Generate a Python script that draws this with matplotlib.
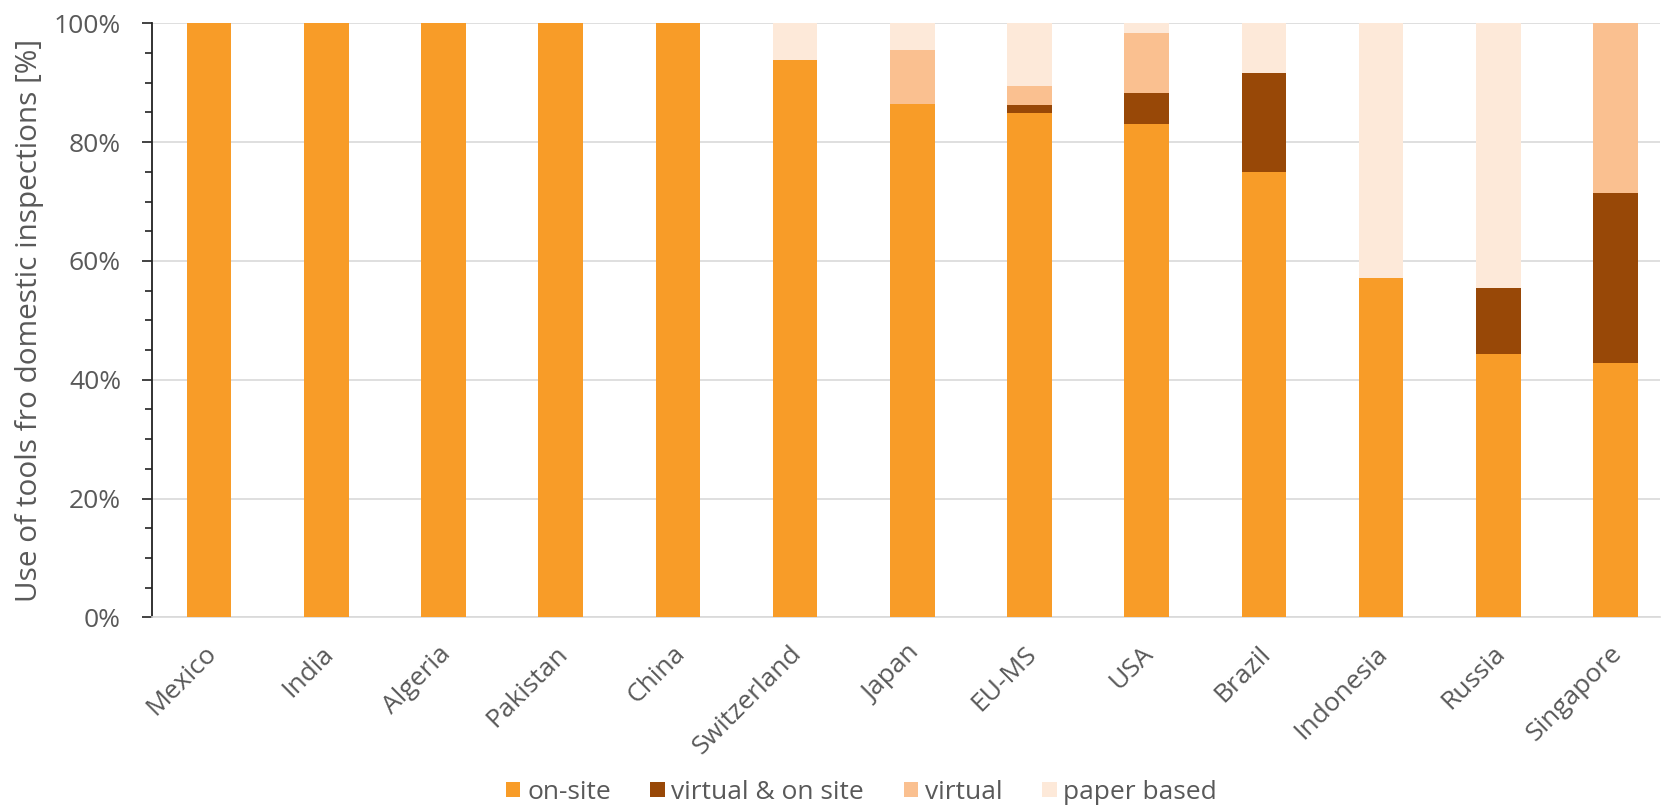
import matplotlib

matplotlib.use("Agg")

import matplotlib.pyplot as plt
import matplotlib.transforms as mtransforms
import numpy as np
from matplotlib.ticker import MultipleLocator, PercentFormatter

plt.rcParams["font.family"] = ["Open Sans", "DejaVu Sans"]

countries = [
    "Mexico", "India", "Algeria", "Pakistan", "China", "Switzerland", "Japan",
    "EU-MS", "USA", "Brazil", "Indonesia", "Russia", "Singapore",
]
on_site = [100, 100, 100, 100, 100, 93.8, 86.4, 84.9, 83.0, 75.0, 57.1, 44.4, 42.9]
virtual_on_site = [0, 0, 0, 0, 0, 0, 0, 1.4, 5.3, 16.7, 0, 11.1, 28.6]
virtual = [0, 0, 0, 0, 0, 0, 9.1, 3.1, 10.0, 0, 0, 0, 28.5]
paper_based = [0, 0, 0, 0, 0, 6.2, 4.5, 10.6, 1.7, 8.3, 42.9, 44.5, 0]

series = [
    ("on-site", on_site, "#F89C28"),
    ("virtual & on site", virtual_on_site, "#984807"),
    ("virtual", virtual, "#FAC090"),
    ("paper based", paper_based, "#FDE9D9"),
]

GREY = "#595959"

fig = plt.figure(figsize=(16.63, 8.06), dpi=100)
ax = fig.add_axes([0.0912, 0.234, 0.907, 0.737])

x = np.arange(len(countries))
bottom = np.zeros(len(countries))
for label, values, color in series:
    values = np.asarray(values, dtype=float)
    ax.bar(x, values, width=0.38, bottom=bottom, color=color, label=label,
           zorder=3)
    bottom += values

ax.set_xlim(-0.49, 12.38)
ax.set_ylim(0, 100)
ax.yaxis.set_major_locator(MultipleLocator(20))
ax.yaxis.set_minor_locator(MultipleLocator(5))
ax.yaxis.set_major_formatter(PercentFormatter(decimals=0))
ax.grid(axis="y", color="#D9D9D9", linewidth=1.2, zorder=0)

ax.set_xticks(x)
ax.set_xticklabels(countries, rotation=45, ha="right", rotation_mode="anchor")
ax.tick_params(axis="x", length=0, pad=17, labelsize=19, colors=GREY)
# nudge the slanted country names a little to the left
shift = mtransforms.ScaledTranslation(-4 / 72, 0, fig.dpi_scale_trans)
for lbl in ax.get_xticklabels():
    lbl.set_transform(lbl.get_transform() + shift)

ax.tick_params(axis="y", which="major", length=7, width=1.2, labelsize=19,
               colors=GREY, pad=15)
ax.tick_params(axis="y", which="major", color="#222222")
ax.tick_params(axis="y", which="minor", length=5, width=1.2, color="#222222")

for side in ["top", "right"]:
    ax.spines[side].set_visible(False)
ax.spines["left"].set_color("#222222")
ax.spines["left"].set_linewidth(1.3)
ax.spines["bottom"].set_color("#D9D9D9")
ax.spines["bottom"].set_linewidth(1.2)

ax.set_ylabel("Use of tools fro domestic inspections [%]", fontsize=21.4,
              color=GREY, labelpad=7)

fig.legend(loc="center", bbox_to_anchor=(0.518, 0.017), ncol=4,
           frameon=False, fontsize=19, handlelength=0.55, handleheight=0.55,
           handletextpad=0.25, columnspacing=1.5, labelcolor=GREY)

fig.savefig("out.png", dpi=100)
plt.close(fig)
